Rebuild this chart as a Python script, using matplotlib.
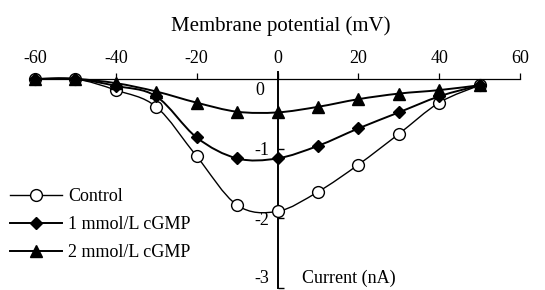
import matplotlib
matplotlib.use("Agg")
import matplotlib.pyplot as plt
import numpy as np
from matplotlib.path import Path
from matplotlib.patches import PathPatch
from matplotlib.lines import Line2D

plt.rcParams['font.family'] = ['Liberation Serif', 'DejaVu Serif']

# membrane potential (mV) and current (nA)
voltage = [-60, -50, -40, -30, -20, -10, 0, 10, 20, 30, 40, 50]
control = [0, 0, -0.16, -0.40, -1.11, -1.81, -1.90, -1.62, -1.23, -0.79, -0.34, -0.09]
cgmp_1 = [0, 0, -0.10, -0.25, -0.84, -1.14, -1.14, -0.96, -0.71, -0.48, -0.25, -0.09]
cgmp_2 = [0, 0, -0.06, -0.18, -0.34, -0.47, -0.48, -0.40, -0.29, -0.21, -0.16, -0.09]
labels = ['Control', '1 mmol/L cGMP', '2 mmol/L cGMP']

x_ticks = [-60, -40, -20, 0, 20, 40, 60]
y_ticks = [-3, -2, -1]


def smooth_path(xs, ys):
    # Catmull-Rom style smoothed line (like a spreadsheet "smoothed line")
    pts = np.column_stack([xs, ys]).astype(float)
    n = len(pts)
    verts = [pts[0]]
    codes = [Path.MOVETO]
    for i in range(n - 1):
        p0 = pts[i - 1] if i > 0 else pts[i]
        p1 = pts[i]
        p2 = pts[i + 1]
        p3 = pts[i + 2] if i + 2 < n else pts[i + 1]
        c1 = p1 + (p2 - p0) / 6.0
        c2 = p2 - (p3 - p1) / 6.0
        verts += [c1, c2, p2]
        codes += [Path.CURVE4] * 3
    return Path(verts, codes)


fig = plt.figure(figsize=(5.45, 2.9), dpi=100)
ax = fig.add_axes([35 / 545, 2 / 290, 485 / 545, 216 / 290])

series = [
    (control, 'o', 'white', 1.0, 8.5),
    (cgmp_1, 'D', 'black', 1.4, 6.0),
    (cgmp_2, '^', 'black', 1.4, 8.0),
]
handles = []
for (vals, mk, fc, lw, ms), lab in zip(series, labels):
    ax.add_patch(PathPatch(smooth_path(voltage, vals), fill=False, edgecolor='black',
                           lw=lw, clip_on=False, zorder=2))
    ax.plot(voltage, vals, linestyle='none', marker=mk, markersize=ms,
            markerfacecolor=fc, markeredgecolor='black', markeredgewidth=1.0,
            clip_on=False, zorder=3)
    handles.append(Line2D([], [], color='black', lw=lw, marker=mk, markersize=ms,
                          markerfacecolor=fc, markeredgecolor='black'))

ax.set_xlim(-60, 60)
ax.set_ylim(-3, 0.1)

ax.spines['right'].set_visible(False)
ax.spines['bottom'].set_visible(False)
ax.spines['top'].set_position(('data', 0))
ax.spines['top'].set_linewidth(0.9)
ax.spines['left'].set_position(('data', 0))
ax.spines['left'].set_linewidth(1.4)

ax.xaxis.set_ticks_position('top')
ax.set_xticks(x_ticks)
ax.set_xticklabels([str(t) for t in x_ticks])
ax.tick_params(axis='x', direction='out', length=4.5, width=0.9, pad=4, labelsize=13)

ax.set_yticks(y_ticks)
ax.set_yticklabels(['' if t == -3 else str(t) for t in y_ticks])
ax.tick_params(axis='y', direction='in', length=4, width=1.0, pad=6, labelsize=13)
ax.text(-4.5, -0.16, '0', ha='center', va='center', fontsize=13)
ax.text(-2.0, -2.985, '-3', ha='right', va='bottom', fontsize=13)

ax.text(6.0, -2.86, 'Current (nA)', ha='left', va='center', fontsize=13)
fig.text(281 / 545, 1 - 26 / 290, 'Membrane potential (mV)', ha='center', va='center', fontsize=15)

fig.legend(handles, labels, loc='center left', bbox_to_anchor=(10 / 545, 1 - 224.5 / 290),
           frameon=False, fontsize=13, handlelength=2.9, handletextpad=0.3,
           labelspacing=0.6, borderpad=0, borderaxespad=0)

fig.savefig('out.png', dpi=100)
